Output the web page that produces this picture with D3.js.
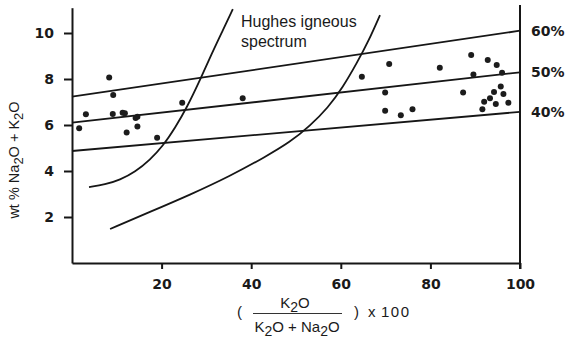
<!DOCTYPE html>
<html>
<head>
<meta charset="utf-8">
<script src="https://cdn.jsdelivr.net/npm/d3@7"></script>
<style>
  html, body { margin: 0; padding: 0; background: #fff; }
  svg { display: block; }
  text { font-family: "DejaVu Sans", sans-serif; fill: #1a1a1a; }
</style>
</head>
<body>
<svg id="chart" width="568" height="340"></svg>
<script>
// ---- data ----
const xTicks = [20, 40, 60, 80, 100];
const yTicks = [2, 4, 6, 8, 10];

// sample points [K2O/(K2O+Na2O)*100, wt% Na2O+K2O]
const pointsX = [8.3, 9.2, 3.1, 1.6, 9.1, 11.3, 11.8, 14.6, 14.2, 14.6, 12.2, 19.0, 24.6,
                 38.1, 64.7, 70.8, 69.9, 69.9, 73.4, 76.0,
                 82.1, 89.1, 92.8, 94.8, 89.6, 96.0, 87.3, 95.7, 94.2, 96.3, 93.3, 92.0, 94.6, 97.4, 91.6];
const pointsY = [8.07, 7.30, 6.47, 5.86, 6.48, 6.53, 6.51, 6.36, 6.30, 5.93, 5.67, 5.45, 6.97,
                 7.16, 8.10, 8.65, 7.41, 6.62, 6.42, 6.68,
                 8.49, 9.04, 8.83, 8.61, 8.20, 8.27, 7.41, 7.67, 7.43, 7.35, 7.16, 7.01, 6.91, 6.97, 6.68];

// percentage reference lines: value at x=0 and x=100
const refLabels = ["60%", "50%", "40%"];
const refStart = [7.23, 6.10, 4.87];
const refEnd = [10.10, 8.29, 6.57];

// Hughes igneous spectrum boundary curves
const leftCurveX = [3.8, 7.4, 10.7, 14.1, 17.4, 20.3, 23.0, 25.7, 28.6, 31.25, 33.7, 35.9];
const leftCurveY = [3.30, 3.41, 3.61, 3.96, 4.48, 5.09, 5.87, 6.78, 7.96, 9.13, 10.13, 11.04];
const rightCurveX = [8.5, 17.4, 26.3, 35.3, 43.1, 48.7, 53.1, 57.1, 60.5, 63.6, 66.1, 68.75];
const rightCurveY = [1.48, 2.22, 2.96, 3.78, 4.61, 5.26, 5.96, 6.74, 7.65, 8.70, 9.61, 10.78];

const annotation = ["Hughes igneous", "spectrum"];

// ---- drawing ----
const svg = d3.select("#chart");
const x = d3.scaleLinear().domain([0, 100]).range([72, 520]);
const y = d3.scaleLinear().domain([0, 11.1]).range([263, 7.7]);
const ink = "#161616";

// axes
const gx = svg.append("g").attr("transform", `translate(0,${y(0)})`)
  .call(d3.axisBottom(x).tickValues(xTicks).tickSize(6).tickSizeOuter(0).tickPadding(10));
const gy = svg.append("g").attr("transform", `translate(${x(0)},0)`)
  .call(d3.axisLeft(y).tickValues(yTicks).tickSize(8).tickSizeOuter(0).tickPadding(10));
[gx, gy].forEach(g => {
  g.selectAll("path.domain").attr("stroke", ink).attr("stroke-width", 2);
  g.selectAll(".tick line").attr("stroke", ink).attr("stroke-width", 2);
  g.selectAll(".tick text").style("font-family", "DejaVu Sans, sans-serif")
    .style("font-size", "14px").style("font-weight", "bold").attr("fill", "#2a2a2a");
});
// right axis line
svg.append("line").attr("x1", x(100)).attr("x2", x(100))
  .attr("y1", y(11.22)).attr("y2", y(0) + 6)
  .attr("stroke", ink).attr("stroke-width", 2);

// reference lines
refLabels.forEach((lab, i) => {
  svg.append("line")
    .attr("x1", x(0)).attr("y1", y(refStart[i]))
    .attr("x2", x(100)).attr("y2", y(refEnd[i]))
    .attr("stroke", ink).attr("stroke-width", 1.8);
  svg.append("text").attr("x", x(100) + 11).attr("y", y(refEnd[i]) + 5)
    .style("font-size", "14px").style("font-weight", "bold").attr("fill", "#2a2a2a")
    .text(lab);
});

// curves
const line = d3.line().x(d => x(d[0])).y(d => y(d[1])).curve(d3.curveBasis);
[[leftCurveX, leftCurveY], [rightCurveX, rightCurveY]].forEach(([cx, cy]) => {
  svg.append("path").datum(cx.map((v, i) => [v, cy[i]]))
    .attr("d", line).attr("fill", "none").attr("stroke", ink).attr("stroke-width", 1.8);
});

// points
svg.append("g").selectAll("circle")
  .data(pointsX.map((v, i) => [v, pointsY[i]]))
  .join("circle")
  .attr("cx", d => x(d[0])).attr("cy", d => y(d[1])).attr("r", 3)
  .attr("fill", "#1c1c1c");

// annotation
const lf = "Liberation Sans, sans-serif";
svg.append("text").attr("x", 241).attr("y", 27)
  .style("font-family", lf).style("font-size", "16px").attr("fill", "#333")
  .text(annotation[0]);
svg.append("text").attr("x", 241).attr("y", 47)
  .style("font-family", lf).style("font-size", "16px").attr("fill", "#333")
  .text(annotation[1]);

// y axis label
const yl = svg.append("text")
  .attr("transform", `translate(19,160) rotate(-90)`)
  .attr("text-anchor", "middle")
  .style("font-family", lf).style("font-size", "14.5px").attr("fill", "#333");
yl.append("tspan").text("wt % Na");
yl.append("tspan").attr("dy", 4).style("font-size", "13px").text("2");
yl.append("tspan").attr("dy", -4).text("O + K");
yl.append("tspan").attr("dy", 4).style("font-size", "13px").text("2");
yl.append("tspan").attr("dy", -4).text("O");

// x axis label (fraction)
function sub(parts, x0, yb, anchor) {
  const el = svg.append("text").attr("x", x0).attr("y", yb).attr("text-anchor", anchor)
    .style("font-family", lf).style("font-size", "15px").attr("fill", "#333");
  parts.forEach(p => {
    if (p.s) el.append("tspan").attr("dy", 4).style("font-size", "14px").text(p.t);
    else el.append("tspan").attr("dy", p.after ? -4 : 0).text(p.t);
  });
  return el;
}
svg.append("text").attr("x", 237).attr("y", 317).style("font-family", lf).style("font-size", "15px")
  .attr("fill", "#333").text("(");
sub([{t: "K"}, {t: "2", s: true}, {t: "O", after: true}], 295, 308, "middle");
svg.append("line").attr("x1", 253).attr("x2", 342).attr("y1", 313.5).attr("y2", 313.5)
  .attr("stroke", "#333").attr("stroke-width", 1.2);
sub([{t: "K"}, {t: "2", s: true}, {t: "O + Na", after: true}, {t: "2", s: true}, {t: "O", after: true}], 297, 332, "middle");
svg.append("text").attr("x", 354).attr("y", 317).style("font-family", lf).style("font-size", "15px")
  .attr("fill", "#333").text(")");
svg.append("text").attr("x", 368).attr("y", 317).style("font-family", lf).style("font-size", "15px")
  .attr("fill", "#333").text("x");
svg.append("text").attr("x", 381).attr("y", 317).style("font-family", lf).style("font-size", "15px")
  .style("letter-spacing", "1.5px").attr("fill", "#333").text("100");
</script>
</body>
</html>
